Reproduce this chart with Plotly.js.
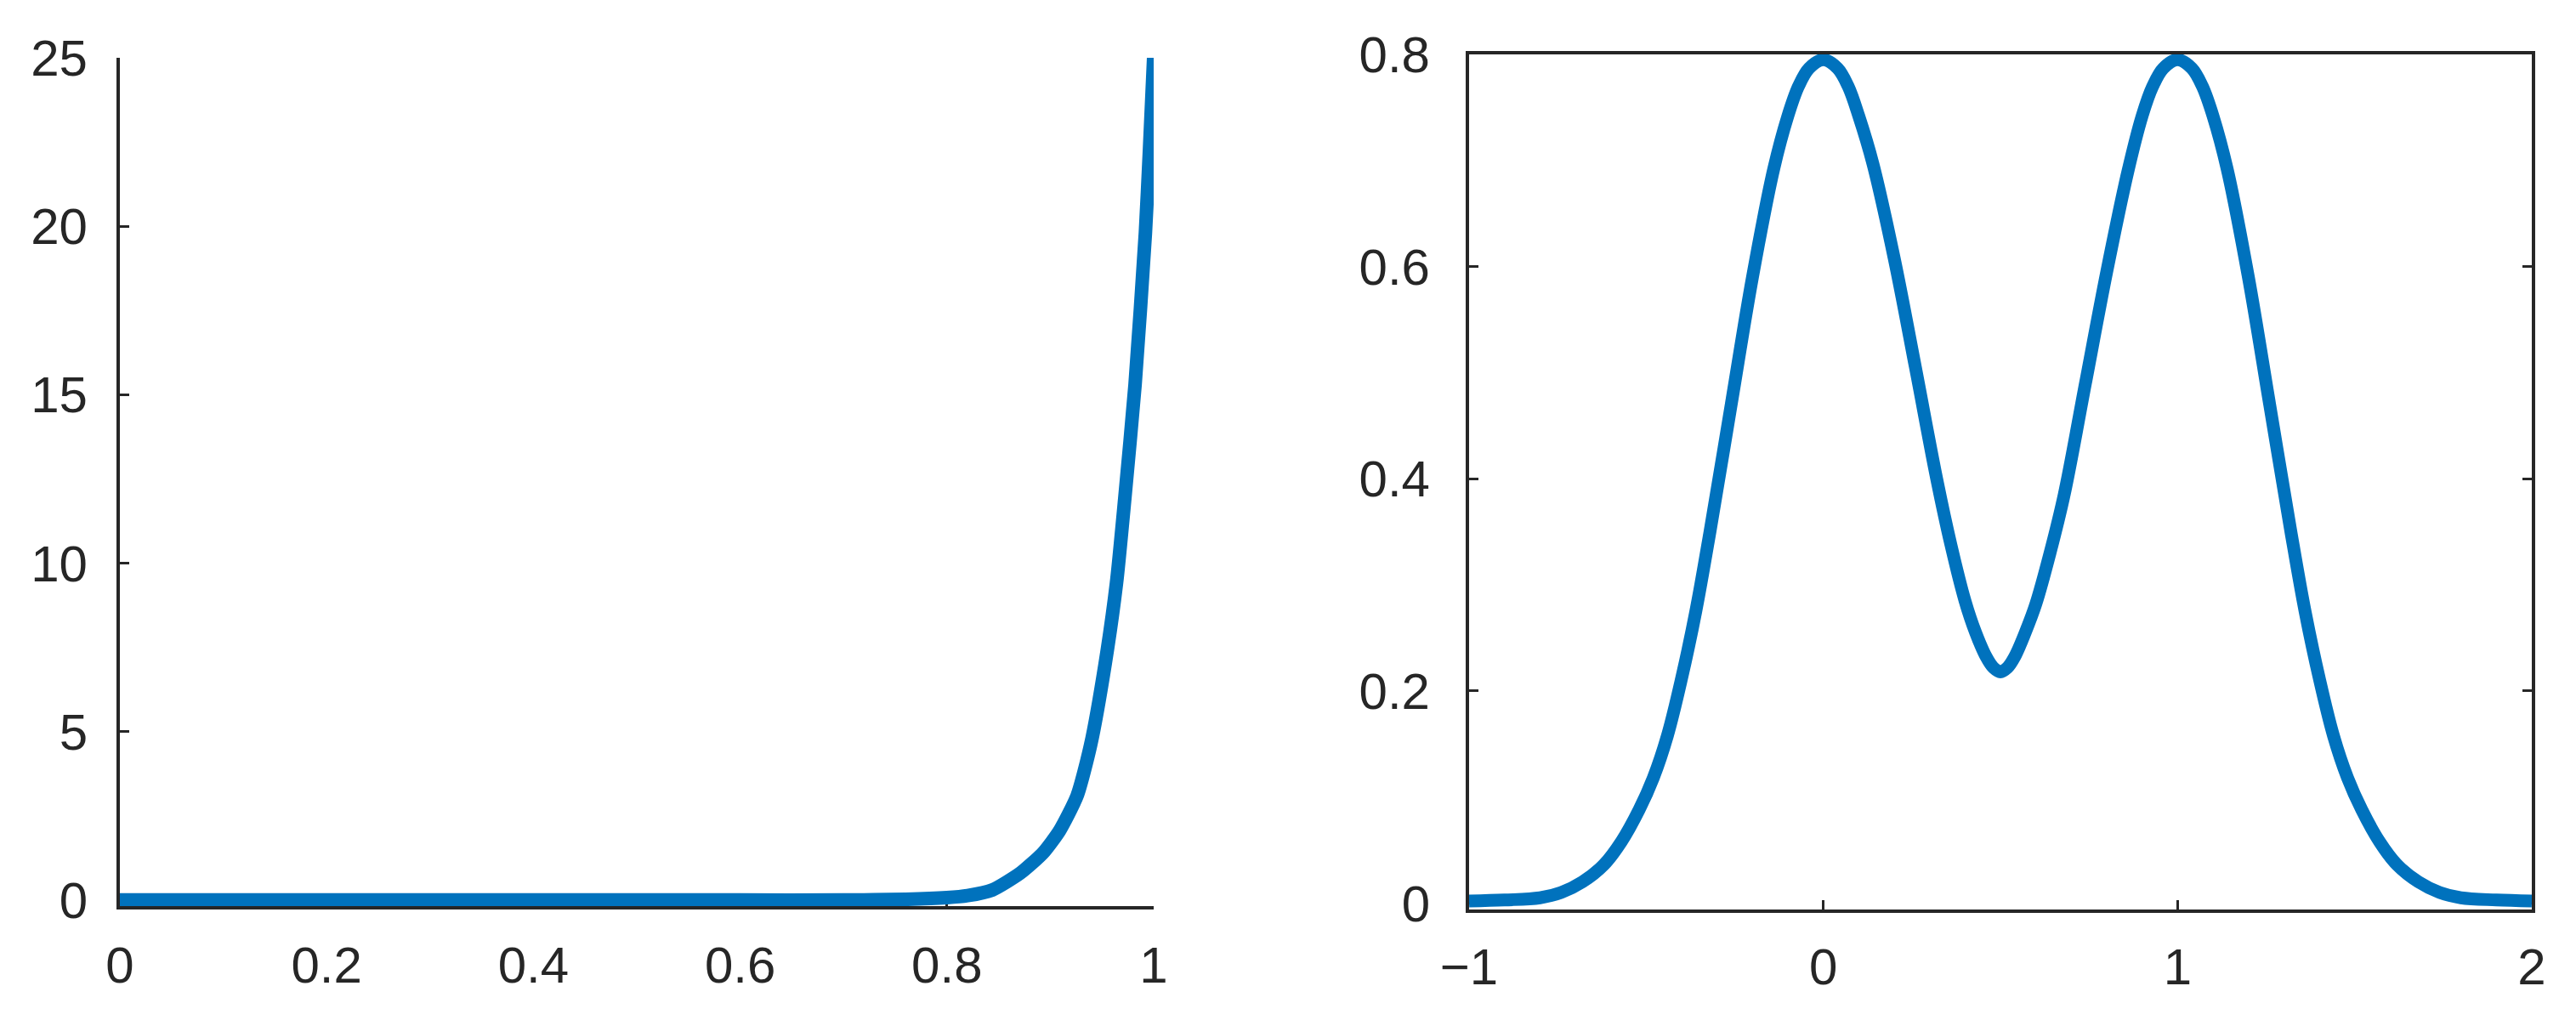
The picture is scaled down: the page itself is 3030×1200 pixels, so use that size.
<!DOCTYPE html>
<html>
<head>
<meta charset="utf-8">
<script src="https://cdn.plot.ly/plotly-3.0.1.min.js"></script>
<style>
  html, body { margin: 0; padding: 0; background: #fff; }
  #chart { width: 3030px; height: 1200px; }
</style>
</head>
<body>
<div id="chart"></div>
<script>
// left panel: steep rise near x = 1
const riseX = [0, 0.2, 0.4, 0.6, 0.7, 0.76, 0.8, 0.82, 0.844, 0.871, 0.893, 0.909, 0.926, 0.939, 0.953, 0.964, 0.972, 0.982, 0.992, 0.996, 1.0];
const riseY = [0, 0, 0, 0, 0, 0.02, 0.07, 0.13, 0.3, 0.8, 1.4, 2.06, 3.1, 4.6, 7.0, 9.4, 11.9, 15.3, 19.8, 22.3, 25];

// right panel: two humps at 0 and 1
const humpX = [-1, -0.9, -0.8, -0.74, -0.68, -0.62, -0.57, -0.52, -0.48, -0.44, -0.4, -0.36, -0.32, -0.26, -0.2, -0.14, -0.1, -0.07, -0.04, 0,
               0.04, 0.07, 0.1, 0.14, 0.2, 0.26, 0.32, 0.36, 0.4, 0.43, 0.46, 0.48, 0.5,
               0.52, 0.54, 0.57, 0.6, 0.64, 0.68, 0.74, 0.8, 0.86, 0.9, 0.93, 0.96, 1.0,
               1.04, 1.07, 1.1, 1.14, 1.2, 1.26, 1.32, 1.36, 1.4, 1.44, 1.48, 1.52, 1.57, 1.62, 1.68, 1.74, 1.8, 1.9, 2];
const humpY = [0.002, 0.003, 0.005, 0.010, 0.020, 0.036, 0.058, 0.088, 0.118, 0.158, 0.212, 0.275, 0.350, 0.470, 0.590, 0.692, 0.742, 0.770, 0.787, 0.795,
               0.787, 0.770, 0.742, 0.697, 0.608, 0.505, 0.400, 0.338, 0.285, 0.255, 0.232, 0.222, 0.218,
               0.222, 0.232, 0.255, 0.282, 0.330, 0.385, 0.490, 0.595, 0.690, 0.742, 0.770, 0.787, 0.795,
               0.787, 0.770, 0.742, 0.692, 0.590, 0.470, 0.350, 0.275, 0.212, 0.158, 0.118, 0.088, 0.058, 0.036, 0.020, 0.010, 0.005, 0.003, 0.002];

// tick values
const leftXTicks = [0, 0.2, 0.4, 0.6, 0.8, 1];
const leftYTicks = [0, 5, 10, 15, 20, 25];
const rightXTicks = [-1, 0, 1, 2];
const rightYTicks = [0, 0.2, 0.4, 0.6, 0.8];

const W = 3030, H = 1200;
const ink = '#262626';
const blue = '#0072BD';
const tickFont = { family: 'Liberation Sans, Arial, sans-serif', size: 60, color: ink };

// pixel box -> paper domain
const dx = (a, b) => [a / W, b / W];
const dy = (top, bottom) => [1 - bottom / H, 1 - top / H];

function axisStyle(extra) {
    return Object.assign({
        showline: true, linecolor: ink, linewidth: 4,
        ticks: 'inside', ticklen: 11, tickwidth: 3, tickcolor: ink,
        showgrid: false, zeroline: false,
        tickfont: tickFont, layer: 'below traces',
        fixedrange: true
    }, extra);
}

const traces = [
    { x: riseX, y: riseY, xaxis: 'x', yaxis: 'y', mode: 'lines',
      line: { color: blue, width: 16, shape: 'spline', smoothing: 0.6 }, hoverinfo: 'skip' },
    { x: humpX, y: humpY, xaxis: 'x2', yaxis: 'y2', mode: 'lines',
      line: { color: blue, width: 15, shape: 'spline', smoothing: 1 }, hoverinfo: 'skip' }
];

const layout = {
    width: W, height: H,
    margin: { l: 0, r: 0, t: 0, b: 0 },
    paper_bgcolor: '#fff', plot_bgcolor: '#fff',
    showlegend: false,
    xaxis: axisStyle({ domain: dx(141, 1357), range: [0, 1], tickvals: leftXTicks, anchor: 'y', ticklabelstandoff: 14 }),
    yaxis: axisStyle({ domain: dy(68, 1066), range: [-0.18, 25], tickvals: leftYTicks, anchor: 'x', ticklabelstandoff: 22 }),
    xaxis2: axisStyle({ domain: dx(1728, 2978), range: [-1, 2], tickvals: rightXTicks, anchor: 'y2', mirror: 'ticks', ticklabelstandoff: 12 }),
    yaxis2: axisStyle({ domain: dy(64, 1070), range: [-0.006, 0.8], tickvals: rightYTicks, anchor: 'x2', mirror: 'ticks', ticklabelstandoff: 30 })
};

Plotly.newPlot('chart', traces, layout, { staticPlot: true, displayModeBar: false });
</script>
</body>
</html>
